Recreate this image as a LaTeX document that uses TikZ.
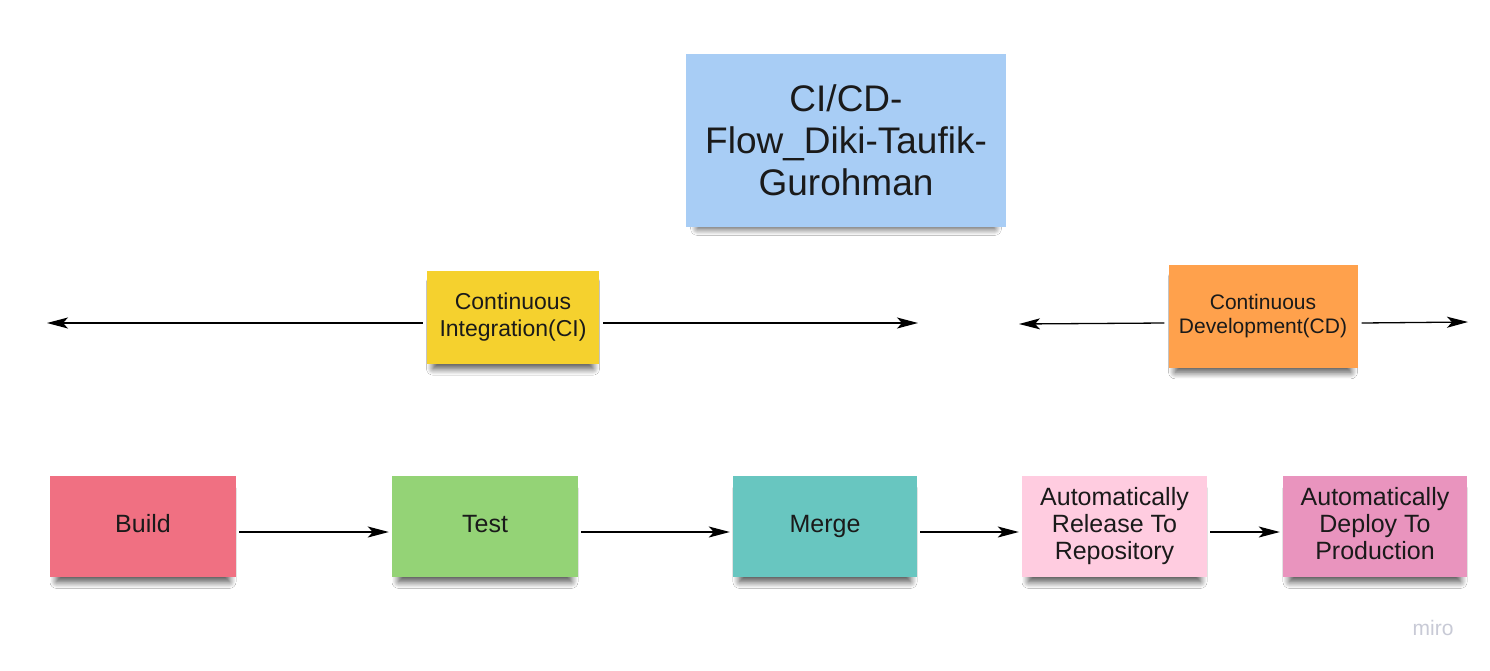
\documentclass[tikz,border=0pt]{standalone}
\usepackage{fontspec}
\setmainfont{Liberation Sans}
\usetikzlibrary{arrows.meta,shadows.blur}
\definecolor{noteBlue}{RGB}{168,205,245}
\definecolor{noteYellow}{RGB}{245,209,46}
\definecolor{noteOrange}{RGB}{255,161,76}
\definecolor{noteRed}{RGB}{240,112,130}
\definecolor{noteGreen}{RGB}{148,211,118}
\definecolor{noteTeal}{RGB}{104,198,192}
\definecolor{noteLightPink}{RGB}{255,204,224}
\definecolor{notePink}{RGB}{233,148,190}
\definecolor{inkDark}{RGB}{26,26,26}
\tikzset{
  sticky/.style={inner sep=0pt, align=center, text=inkDark,
    blur shadow={shadow xshift=0pt, shadow yshift=-9pt, shadow scale=0.93,
      shadow blur steps=12, shadow blur radius=7pt, shadow opacity=70}},
  stepnote/.style={sticky, minimum height=101, font=\fontsize{25}{27}\selectfont},
  flowarrow/.style={line width=1.3pt, -{Stealth[length=21pt,width=11pt,inset=5pt]}},
}
\newcommand{\lowline}{\vphantom{y}}
\begin{document}
\begin{tikzpicture}[x=1pt,y=1pt,yscale=-1,xscale=1]
\path[use as bounding box, fill=white] (0,0) rectangle (1490,670);

%Shape: Title note
\node[sticky, fill=noteBlue, minimum width=320, minimum height=173, font=\fontsize{37}{42}\selectfont] (title) at (846,140) {CI/CD-\\Flow\_Diki-Taufik-\\Gurohman};

%Shape: CI note
\node[sticky, fill=noteYellow, minimum width=172, minimum height=93, font=\fontsize{23}{27}\selectfont] (ci) at (513,317) {Continuous\\Integration(CI)};
%Shape: CD note
\node[sticky, fill=noteOrange, minimum width=189, minimum height=103, font=\fontsize{21}{24}\selectfont] (cd) at (1263,316) {Continuous\\Development(CD)};

%Free ends of the phase arrows
\coordinate (ciL) at (47,323);
\coordinate (ciR) at (918,323);
\coordinate (cdL) at (1019,324);
\coordinate (cdR) at (1468,322);

%Straight Lines: phase spans
\draw[flowarrow] (ci.west |- 0,323) ++(-4,0) -- (ciL);
\draw[flowarrow] (ci.east |- 0,323) ++(4,0) -- (ciR);
\draw[flowarrow] (cd.west |- 0,323) ++(-4,0) -- (cdL);
\draw[flowarrow] (cd.east |- 0,323) ++(4,0) -- (cdR);

%Shape: pipeline notes
\node[stepnote, fill=noteRed, minimum width=186] (build) at (143,526.5) {Build\lowline};
\node[stepnote, fill=noteGreen, minimum width=186] (test) at (485,526.5) {Test\lowline};
\node[stepnote, fill=noteTeal, minimum width=184] (merge) at (825,526.5) {Merge\lowline};
\node[stepnote, fill=noteLightPink, minimum width=185] (release) at (1114.5,526.5) {Automatically\\Release To\\Repository};
\node[stepnote, fill=notePink, minimum width=184] (deploy) at (1375,526.5) {Automatically\\Deploy To\\Production\lowline};

%Straight Lines: pipeline steps
\draw[flowarrow] ([xshift=3pt]build.east |- 0,532) -- ([xshift=-3pt]test.west |- 0,532);
\draw[flowarrow] ([xshift=3pt]test.east |- 0,532) -- ([xshift=-3pt]merge.west |- 0,532);
\draw[flowarrow] ([xshift=3pt]merge.east |- 0,532) -- ([xshift=-3pt]release.west |- 0,532);
\draw[flowarrow] ([xshift=3pt]release.east |- 0,532) -- ([xshift=-3pt]deploy.west |- 0,532);

% Text Node
\node[text={rgb,255:red,200;green,202;blue,214}, font=\fontsize{21}{21}\selectfont] (miro) at (1433,628) {miro};
\end{tikzpicture}
\end{document}
